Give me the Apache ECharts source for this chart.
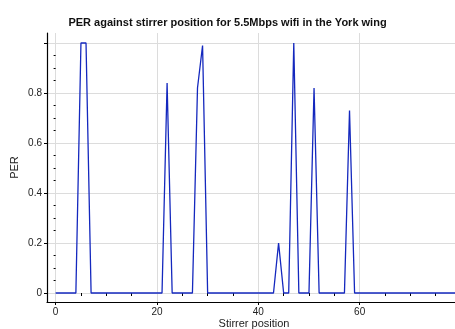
<!DOCTYPE html>
<html>
<head>
<meta charset="utf-8">
<script src="https://cdn.jsdelivr.net/npm/echarts@6/dist/echarts.min.js"></script>
<style>
  html, body { margin: 0; padding: 0; background: #fff; }
  #chart { width: 455px; height: 329px; }
</style>
</head>
<body>
<div id="chart"></div>
<script>
// stirrer positions 0..80 and the packet error rate
const positions = [];
for (let i = 0; i <= 80; i++) positions.push(i);

const per = [
  0, 0, 0, 0, 0, 1, 1, 0, 0, 0,
  0, 0, 0, 0, 0, 0, 0, 0, 0, 0,
  0, 0, 0.84, 0, 0, 0, 0, 0, 0.82, 0.99,
  0, 0, 0, 0, 0, 0, 0, 0, 0, 0,
  0, 0, 0, 0, 0.2, 0, 0, 1, 0, 0,
  0, 0.82, 0, 0, 0, 0, 0, 0, 0.73, 0,
  0, 0, 0, 0, 0, 0, 0, 0, 0, 0,
  0, 0, 0, 0, 0, 0, 0, 0, 0, 0,
  0
];

const xMajor = [0, 20, 40, 60];
const xMinor = [5, 10, 15, 25, 30, 35, 45, 50, 55, 65, 70, 75];
const yMajor = [0, 0.2, 0.4, 0.6, 0.8, 1];
const yMinor = [0.05, 0.1, 0.15, 0.25, 0.3, 0.35, 0.45, 0.5, 0.55, 0.65, 0.7, 0.75, 0.85, 0.9, 0.95];
const yLabels = ['0', '0.2', '0.4', '0.6', '0.8', ''];

const font = 'Liberation Sans';
const X_MIN = -1.7, X_MAX = 80;
const Y_MIN = -0.036, Y_MAX = 1.04;

const myChart = echarts.init(document.getElementById('chart'));

const option = {
  animation: false,
  title: {
    text: 'PER against stirrer position for 5.5Mbps wifi in the York wing',
    left: 'center',
    top: 12,
    textStyle: { fontFamily: font, fontSize: 11, fontWeight: 'bold', color: '#111' }
  },
  grid: { left: 47, top: 33, bottom: 27, right: -6, outerBoundsMode: 'none' },
  xAxis: [{
    type: 'value',
    min: X_MIN,
    max: X_MAX,
    name: 'Stirrer position',
    nameLocation: 'middle',
    nameGap: 16,
    nameMoveOverlap: false,
    nameTextStyle: { fontFamily: font, fontSize: 11, color: '#222' },
    axisLine: { onZero: false, lineStyle: { color: '#000', width: 1.2 } },
    axisTick: { customValues: xMajor, length: 3, lineStyle: { color: '#000' } },
    axisLabel: { customValues: xMajor, margin: 5, fontFamily: font, fontSize: 10, color: '#222' },
    splitLine: { show: true, lineStyle: { color: '#dcdcdc', width: 1 } }
  }, {
    type: 'value',
    min: X_MIN,
    max: X_MAX,
    position: 'bottom',
    axisLine: { show: false },
    axisTick: { customValues: xMinor, length: 3, lineStyle: { color: '#000' } },
    axisLabel: { show: false },
    splitLine: { show: false }
  }],
  yAxis: [{
    type: 'value',
    min: Y_MIN,
    max: Y_MAX,
    name: 'PER',
    nameLocation: 'middle',
    nameGap: 27,
    nameMoveOverlap: false,
    nameTextStyle: { fontFamily: font, fontSize: 11, color: '#222' },
    axisLine: { onZero: false, lineStyle: { color: '#000', width: 1.2 } },
    axisTick: { customValues: yMajor, length: 3, lineStyle: { color: '#000' } },
    axisLabel: {
      customValues: yMajor,
      margin: 5,
      fontFamily: font,
      fontSize: 10,
      color: '#222',
      formatter: v => yLabels[yMajor.findIndex(t => Math.abs(t - v) < 1e-6)] ?? ''
    },
    splitLine: { show: true, lineStyle: { color: '#dcdcdc', width: 1 } }
  }, {
    type: 'value',
    min: Y_MIN,
    max: Y_MAX,
    position: 'left',
    axisLine: { show: false },
    axisTick: { customValues: yMinor, length: 2, lineStyle: { color: '#000' } },
    axisLabel: { show: false },
    splitLine: { show: false }
  }],
  series: [{
    type: 'line',
    data: positions.map((x, i) => [x, per[i]]),
    showSymbol: false,
    lineStyle: { color: '#1428be', width: 1.3 },
    itemStyle: { color: '#1428be' }
  }]
};

myChart.setOption(option);

window.addEventListener('resize', () => {
  if (myChart) myChart.resize();
});
</script>
</body>
</html>
